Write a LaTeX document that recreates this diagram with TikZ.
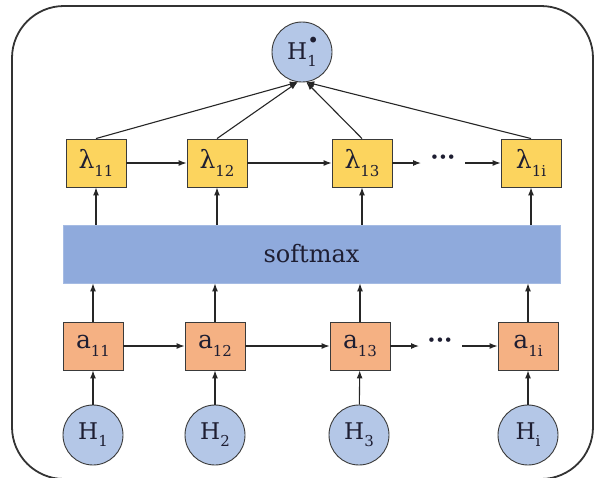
\documentclass[tikz,border=0pt]{standalone}
\usepackage{fontspec}
\setmainfont{DejaVu Serif}
\newfontfamily\tnr{DejaVu Serif}
\usetikzlibrary{arrows.meta}

\definecolor{lamfill}{HTML}{FCD45E}
\definecolor{afill}{HTML}{F5B183}
\definecolor{hfill}{HTML}{B4C7E7}
\definecolor{smfill}{HTML}{8FAADC}
\definecolor{edge}{HTML}{3A3A3A}
\definecolor{ink}{HTML}{1E1E32}

% symbol with a lowered, smaller index
\newcommand{\idx}[2]{#1\raisebox{-0.3em}{\fontsize{15}{15}\selectfont #2}}

\tikzset{
  cell/.style={draw=edge, line width=0.9pt, minimum width=60pt, minimum height=48pt,
               inner sep=0pt, text=ink, font=\tnr\fontsize{25}{25}\selectfont},
  lambox/.style={cell, fill=lamfill},
  abox/.style={cell, fill=afill},
  hnode/.style={circle, draw=edge, line width=0.9pt, fill=hfill, minimum size=60pt,
                inner sep=0pt, text=ink, font=\tnr\fontsize{23}{23}\selectfont},
  arr/.style={-{Latex[length=8pt,width=6pt]}, line width=1.1pt, draw=black!85},
  dots/.style={inner sep=0pt, text=ink, font=\tnr\fontsize{24}{24}\selectfont\bfseries}
}

\begin{document}
\begin{tikzpicture}[x=1pt, y=-1pt]
  \useasboundingbox (0,0) rectangle (594,477);
  \clip (0,0) rectangle (594,477);

  % outer frame
  \draw[line width=1.8pt, black!80, rounded corners=52pt] (12,6) rectangle (593,479);

  % softmax band
  \node[fill=smfill, draw=smfill!80!white, line width=0.8pt, minimum width=497pt,
        minimum height=58pt, inner sep=0pt, text=ink,
        font=\tnr\fontsize{24}{24}\selectfont] (sm) at (311.5,254) {softmax};

  % output node
  \node[hnode] (hp) at (302,52) {H\rlap{\raisebox{0.5em}{\fontsize{20}{20}\selectfont•}}\raisebox{-0.3em}{\fontsize{15}{15}\selectfont 1}};

  % weight boxes
  \node[lambox] (l1) at (96,163)  {\idx{λ}{11}};
  \node[lambox] (l2) at (217,163) {\idx{λ}{12}};
  \node[lambox] (l3) at (362,163) {\idx{λ}{13}};
  \node[lambox] (l4) at (531,163) {\idx{λ}{1i}};

  % score boxes
  \node[abox] (a1) at (93,346)  {\idx{a}{11}};
  \node[abox] (a2) at (215,346) {\idx{a}{12}};
  \node[abox] (a3) at (360,346) {\idx{a}{13}};
  \node[abox] (a4) at (528,346) {\idx{a}{1i}};

  % inputs
  \node[hnode] (h1) at (93,435)  {\idx{H}{1}};
  \node[hnode] (h2) at (215,435) {\idx{H}{2}};
  \node[hnode] (h3) at (359,435) {\idx{H}{3}};
  \node[hnode] (h4) at (528,435) {\idx{H}{i}};

  % ellipsis in both chains
  \node[dots] (ld) at (443,160) {···};
  \coordinate (ldl) at (421,163);
  \coordinate (ldr) at (465,163);
  \node[dots] (ad) at (440,343) {···};
  \coordinate (adl) at (419,346);
  \coordinate (adr) at (462,346);

  % horizontal chains
  \draw[arr] (l1) -- (l2);
  \draw[arr] (l2) -- (l3);
  \draw[arr] (l3) -- (ldl);
  \draw[arr] (ldr) -- (l4);
  \draw[arr] (a1) -- (a2);
  \draw[arr] (a2) -- (a3);
  \draw[arr] (a3) -- (adl);
  \draw[arr] (adr) -- (a4);

  % vertical flow
  \foreach \i in {1,...,4} {
    \draw[arr] (h\i) -- (a\i);
    \draw[arr] (a\i.north) -- (a\i.north |- sm.south);
    \draw[arr] (l\i.south |- sm.north) -- (l\i.south);
  }

  % weighted sum into the output
  \draw[arr] (l1.north) -- (hp.262);
  \draw[arr] (l2.north) -- (hp.262);
  \draw[arr] (l3.north) -- (hp.278);
  \draw[arr] (l4.north) -- (hp.278);
\end{tikzpicture}
\end{document}
